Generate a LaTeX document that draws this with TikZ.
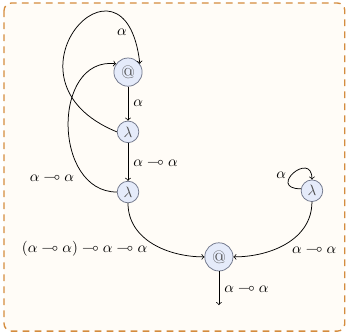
\documentclass[tikz,border=0pt]{standalone}
\usepackage{amsmath, amssymb}
\definecolor{PaperCream}{RGB}{255, 252, 247}
\definecolor{FrameOrange}{RGB}{212, 140, 62}
\definecolor{NodeBlue}{RGB}{229, 235, 250}
\definecolor{NodeLine}{RGB}{112, 118, 138}

\begin{document}
\begin{tikzpicture}[
        frame/.style={draw=FrameOrange, fill=PaperCream, line width=0.9pt, dash pattern=on 4.5pt off 3.5pt, rounded corners=5pt},
        lam/.style={circle, draw=NodeLine, fill=NodeBlue, inner sep=0pt, minimum size=14.4pt, line width=0.5pt, text=black!70},
        app/.style={circle, draw=NodeLine, fill=NodeBlue, inner sep=0pt, minimum size=18.8pt, line width=0.5pt, text=black!70, font=\large},
        wire/.style={->, line width=0.5pt, black}
    ]
        \useasboundingbox (0, 0) rectangle (8.155, -7.85);
        \draw[frame] (0.095, -0.07) rectangle (8.08, -7.76);

        % Nodes
        \node[app] (at1) at (3.0, -1.69) {@};
        \node[lam] (lam1) at (3.0, -3.09) {$\lambda$};
        \node[lam] (lam2) at (3.0, -4.50) {$\lambda$};
        \node[app] (at2) at (5.13, -6.02) {@};
        \node[lam] (lam3) at (7.31, -4.47) {$\lambda$};
        \coordinate (out) at (5.13, -7.15);

        % Straight wires
        \draw[wire] (at1) -- node[right] {$\alpha$} (lam1);
        \draw[wire] (lam1) -- node[right] {$\alpha \multimap \alpha$} (lam2);
        \draw[wire] (at2) -- node[right] {$\alpha \multimap \alpha$} (out);

        % Back loops into the top application
        \draw[wire] (lam1.west) .. controls +(-2.98, 1.22) and +(-0.35, 3.05) .. node[pos=0.9, left] {$\alpha$} (at1.35);
        \draw[wire] (lam2.west) .. controls +(-1.51, 0) and +(-1.51, 0.18) .. node[pos=0.25, left, xshift=-0.7pt, yshift=-4pt] {$\alpha \multimap \alpha$} (at1.145);

        % Into the bottom application
        \draw[wire] (lam2.south) to[out=-90, in=180] node[midway, below left, yshift=5pt] {$(\alpha \multimap \alpha) \multimap \alpha \multimap \alpha$} (at2.west);
        \draw[wire] (lam3.south) to[out=-90, in=0] node[midway, below right, yshift=2.5pt] {$\alpha \multimap \alpha$} (at2.east);
        \draw[wire] (lam3.170) .. controls +(-0.81, 0) and +(0, 0.7) .. node[pos=0.45, left] {$\alpha$} (lam3.north);
    \end{tikzpicture}
\end{document}
